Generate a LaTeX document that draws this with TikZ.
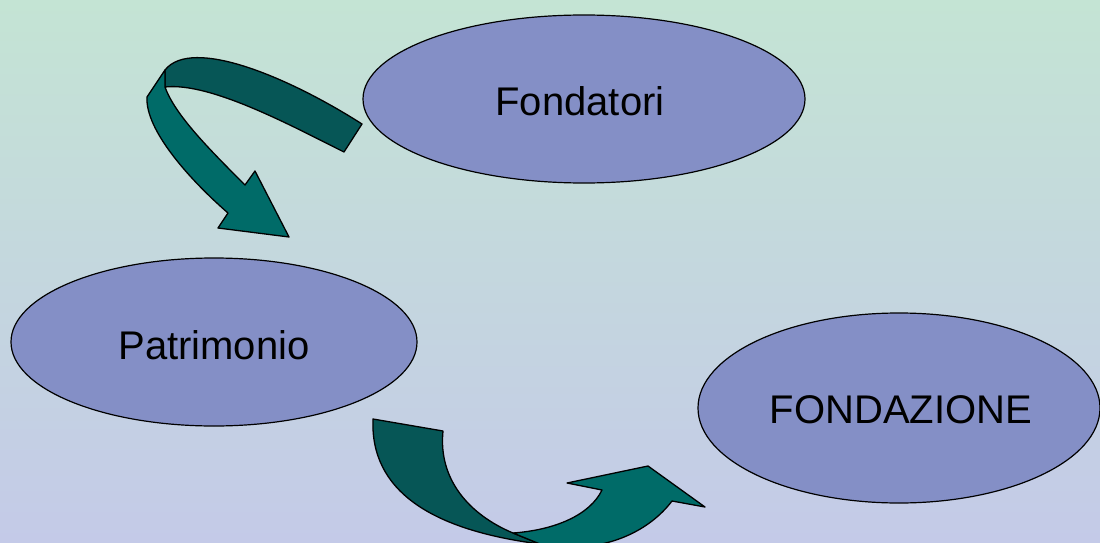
\documentclass[tikz,border=0pt]{standalone}
\usepackage{fontspec}
\setmainfont{Liberation Sans}
\usetikzlibrary{shapes.geometric}
\definecolor{bgtop}{HTML}{C4E4D4}
\definecolor{bgbot}{HTML}{C4CAE8}
\definecolor{ellfill}{HTML}{848FC6}
\definecolor{darkteal}{HTML}{065656}
\definecolor{lightteal}{HTML}{006B68}
\tikzset{
  blob/.style={ellipse, draw=black, line width=1.2pt, fill=ellfill, inner sep=0pt},
  label/.style={font=\fontsize{40}{42}\selectfont},
  backband/.style={fill=darkteal, draw=black, line width=1.3pt, line join=round},
  frontband/.style={fill=lightteal, draw=black, line width=1.3pt, line join=round}
}
\begin{document}
\begin{tikzpicture}[x=1pt,y=-1pt]
\useasboundingbox (0,0) rectangle (1100,543);
\clip (0,0) rectangle (1100,543);
\shade[top color=bgtop, bottom color=bgbot] (0,0) rectangle (1100,543);

\node[blob, minimum width=442pt, minimum height=168pt] (fond) at (584,99) {};
\node[label] (fondtxt) at (580,101) {Fondatori};
\node[blob, minimum width=406pt, minimum height=168pt] (patr) at (214,342) {};
\node[label] (patrtxt) at (214,345) {Patrimonio};
\node[blob, minimum width=402pt, minimum height=190pt] (fz) at (899,408) {};
\node[label] (fztxt) at (901,410) {FONDAZIONE};

% arrow 1: Fondatori -> Patrimonio
\coordinate (a1t1) at (362,124);
\coordinate (a1t2) at (344,152);
\coordinate (a1A) at (165,70);
\coordinate (a1B) at (165,87);
\coordinate (a1o) at (147,97);
\coordinate (a1h1) at (228,213);
\coordinate (a1h2) at (218,228);
\coordinate (a1tip) at (289,237);
\coordinate (a1h3) at (255,171);
\coordinate (a1h4) at (245,185);
\draw[backband] (a1t1) .. controls (290,78) and (192,36) .. (a1A) -- (a1B)
  .. controls (210,82) and (290,125) .. (a1t2) -- cycle;
\draw[frontband] (a1A) -- (a1o) .. controls (145,130) and (190,180) .. (a1h1)
  -- (a1h2) -- (a1tip) -- (a1h3) -- (a1h4)
  .. controls (210,150) and (175,115) .. (a1B) -- cycle;

% arrow 2: Patrimonio -> FONDAZIONE
\coordinate (a2t1) at (373,419);
\coordinate (a2t2) at (443,431);
\coordinate (a2B) at (513,533);
\coordinate (a2A) at (540,544);
\coordinate (a2h4) at (602,490);
\coordinate (a2h3) at (567,483);
\coordinate (a2h2) at (648,466);
\coordinate (a2tip) at (705,507);
\coordinate (a2h1) at (672,501);
\draw[backband] (a2t1) -- (a2t2) .. controls (438,480) and (470,515) .. (a2B)
  -- (a2A) .. controls (430,530) and (370,490) .. (a2t1) -- cycle;
\draw[frontband] (a2B) .. controls (555,530) and (590,515) .. (a2h4)
  -- (a2h3) -- (a2h2) -- (a2tip) -- (a2h1)
  .. controls (650,530) and (610,550) .. (560,547) -- (a2A) -- cycle;
\end{tikzpicture}
\end{document}
